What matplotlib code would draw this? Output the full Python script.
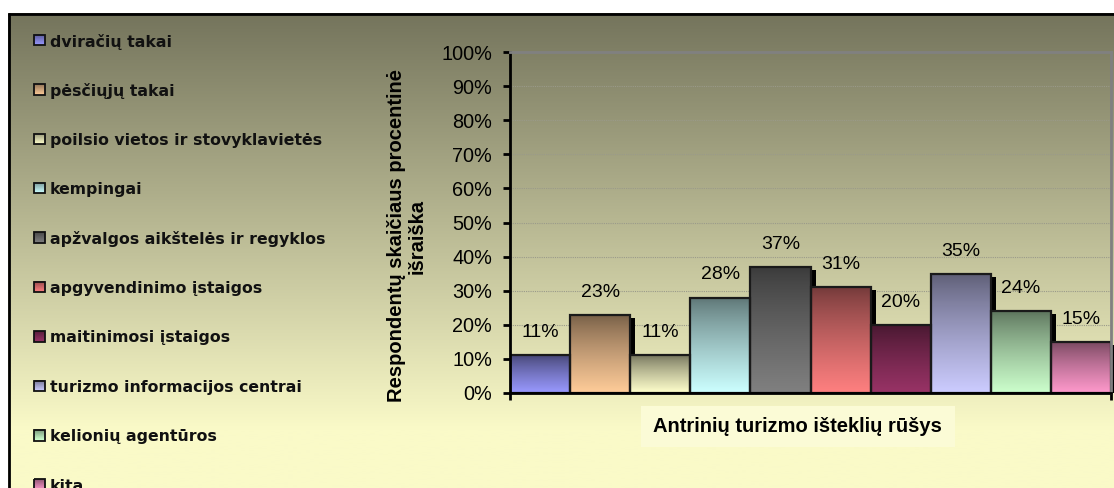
import numpy as np
import matplotlib
matplotlib.use("Agg")
import matplotlib.pyplot as plt
from matplotlib.patches import Rectangle
from matplotlib.colors import to_rgb

# ---- data ----
categories = ["dviračių takai", "pėsčiųjų takai", "poilsio vietos ir stovyklavietės",
              "kempingai", "apžvalgos aikštelės ir regyklos", "apgyvendinimo įstaigos",
              "maitinimosi įstaigos", "turizmo informacijos centrai",
              "kelionių agentūros", "kita"]
values = [11, 23, 11, 28, 37, 31, 20, 35, 24, 15]
colors = ["#9999FF", "#FFCC99", "#FFFFCC", "#CCFFFF", "#808080",
          "#FF8080", "#993366", "#CCCCFF", "#CCFFCC", "#FF99CC"]
yticks = [0, 10, 20, 30, 40, 50, 60, 70, 80, 90, 100]
ylabel = "Respondentų skaičiaus procentinė\nišraiška"
xlabel = "Antrinių turizmo išteklių rūšys"

W, H = 1114, 488
fig = plt.figure(figsize=(W / 100, H / 100), dpi=100)
fig.patch.set_facecolor("white")

def fx(px):
    return px / W

def fy(py):
    return 1 - py / H

def vgrad(c, k=0.45, p=0.8, m=100):
    base = np.array(to_rgb(c))
    dark = base * k
    s = np.linspace(0, 1, m)[:, None] ** p
    return (dark * (1 - s) + base * s)[:, None, :]

# ---- chart area background gradient ----
top_c = np.array(to_rgb("#74745C"))
bot_c = np.array(to_rgb("#FAFAC8"))
bg_ax = fig.add_axes([fx(8), 0, 1 - fx(8), fy(13)], zorder=0)
ys = np.linspace(13, 488, 400)
t = np.clip((ys - 13) / (430 - 13), 0, 1)[:, None]
grad = (top_c * (1 - t) + bot_c * t)[:, None, :]
bg_ax.imshow(grad, aspect="auto", extent=[0, 1, 0, 1], origin="upper")
bg_ax.set_xlim(0, 1)
bg_ax.set_ylim(0, 1)
bg_ax.axis("off")

# pixel-coordinate overlay for borders and legend swatches
ov = fig.add_axes([0, 0, 1, 1], zorder=1)
ov.set_xlim(0, W)
ov.set_ylim(H, 0)
ov.axis("off")
ov.patch.set_alpha(0)
ov.plot([9, 9], [13, H + 5], color="black", lw=2, solid_capstyle="butt")
ov.plot([8, W + 5], [14, 14], color="black", lw=2, solid_capstyle="butt")

# ---- main axes ----
x0, x1, y_top, y_bot = 510, 1111, 52, 393
ax = fig.add_axes([fx(x0), fy(y_bot), fx(x1 - x0), (y_bot - y_top) / H], zorder=2)
ax.patch.set_alpha(0)
nb = len(values)

ppx = nb / (x1 - x0)
ppy = 100 / (y_bot - y_top)

for v in yticks[1:-1]:
    ax.axhline(v, color="#9a9a8a", lw=0.8, ls=(0, (1, 1)), zorder=0.5)

# shadows
for i, v in enumerate(values):
    ax.add_patch(Rectangle((i + 5 * ppx, 0), 1, v - 3 * ppy, facecolor="black",
                           edgecolor="none", zorder=1, clip_on=False))

# bars with vertical gradient
for i, (v, c) in enumerate(zip(values, colors)):
    ax.imshow(vgrad(c), aspect="auto", extent=[i, i + 1, 0, v], origin="upper",
              zorder=2, interpolation="bilinear")
    ax.add_patch(Rectangle((i, 0), 1, v, facecolor="none", edgecolor="#1a1a1a",
                           lw=1.6, zorder=3))
    ax.annotate(f"{v}%", (i + 0.5, v), xytext=(0, 13), textcoords="offset points",
                ha="center", va="baseline", fontsize=14, family="Liberation Sans",
                color="black", zorder=4)

ax.set_xlim(0, nb)
ax.set_ylim(0, 100)

ax.spines["left"].set_color("black")
ax.spines["left"].set_linewidth(2)
ax.spines["bottom"].set_color("black")
ax.spines["bottom"].set_linewidth(2)
ax.spines["top"].set_color("#808080")
ax.spines["top"].set_linewidth(2)
ax.spines["right"].set_color("#808080")
ax.spines["right"].set_linewidth(2)
for sp in ax.spines.values():
    sp.set_zorder(5)

ax.set_yticks(yticks)
ax.set_yticklabels([f"{v}%" for v in yticks], fontsize=14.3, family="Liberation Sans")
ax.tick_params(axis="y", direction="out", length=5, width=2, pad=8)
ax.set_xticks([0, nb])
ax.set_xticklabels([])
ax.tick_params(axis="x", direction="out", length=5, width=2)

# y label
fig.text(fx(407), fy(236), ylabel, rotation=90, ha="center", va="center",
         multialignment="center", fontsize=14.5, fontweight="bold",
         family="Liberation Sans", linespacing=1.1, zorder=3)

# x label box
ov.add_patch(Rectangle((641, 406), 955 - 641, 447 - 406, facecolor="#FBFBD6",
                       edgecolor="none", zorder=2))
fig.text(fx(797), fy(426.5), xlabel, ha="center", va="center", fontsize=14.5,
         fontweight="bold", family="Liberation Sans", zorder=3)

# legend
for k, (lab, c) in enumerate(zip(categories, colors)):
    yc = 40 + k * 49.4
    ov.imshow(vgrad(c, k=0.55, p=0.9), aspect="auto",
              extent=[34, 44.5, yc + 5.3, yc - 5.3], origin="upper", zorder=3,
              interpolation="bilinear")
    ov.add_patch(Rectangle((34, yc - 5.3), 10.5, 10.6, facecolor="none",
                           edgecolor="#111111", lw=1.3, zorder=4))
    fig.text(fx(49.5), fy(yc), lab, ha="left", va="center_baseline", fontsize=11.3,
             fontweight="bold", family="DejaVu Sans", color="#111111", zorder=3)
ov.set_xlim(0, W)
ov.set_ylim(H, 0)

fig.savefig("out.png", dpi=100)
